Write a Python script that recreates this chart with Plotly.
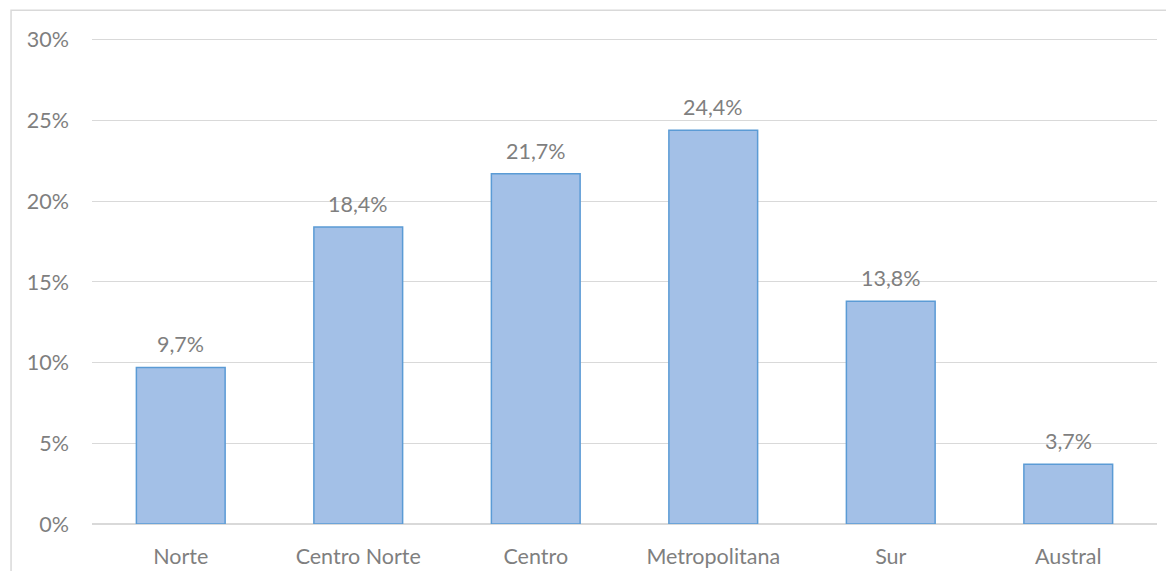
import plotly.graph_objects as go

categories = ["Norte", "Centro Norte", "Centro", "Metropolitana", "Sur", "Austral"]
values = [9.7, 18.4, 21.7, 24.4, 13.8, 3.7]
labels = [f"{v:.1f}".replace(".", ",") + "%" for v in values]
y_ticks = [0, 5, 10, 15, 20, 25, 30]
y_tick_text = [f"{t}%" for t in y_ticks]

FONT = "Lato, Carlito, 'Open Sans', sans-serif"
GRAY = "#7f7f7f"
FS = 21.5

fig = go.Figure(
    go.Bar(
        x=categories,
        y=values,
        marker=dict(color="#a3c0e7", line=dict(color="#5b9bd5", width=1.5)),
        width=0.5,
    )
)

for c, v, t in zip(categories, values, labels):
    fig.add_annotation(
        x=c, y=v, text=t, showarrow=False, yanchor="bottom", yshift=8,
        font=dict(family=FONT, size=FS, color=GRAY),
    )

# page body has 8px margin -> figure shrunk accordingly
fig.update_layout(
    width=1158,
    height=563,
    margin=dict(l=84, r=9, t=30, b=47),
    paper_bgcolor="white",
    plot_bgcolor="white",
    showlegend=False,
    font=dict(family=FONT, size=FS, color=GRAY),
    shapes=[
        dict(
            type="rect", xref="paper", yref="paper",
            x0=-0.076, x1=1.1, y0=-0.3, y1=1.057,
            line=dict(color="#d9d9d9", width=1.5), layer="below",
        )
    ],
)
fig.update_yaxes(
    range=[0, 30.12],
    tickvals=y_ticks,
    ticktext=y_tick_text,
    showgrid=True,
    gridcolor="#d9d9d9",
    gridwidth=1,
    zeroline=True,
    zerolinecolor="#d9d9d9",
    showline=False,
    ticks="",
    ticklabelstandoff=22,
    automargin=False,
    tickfont=dict(family=FONT, size=FS, color=GRAY),
)
fig.update_xaxes(
    showline=False,
    ticks="",
    showgrid=False,
    ticklabelstandoff=17,
    automargin=False,
    tickfont=dict(family=FONT, size=FS, color=GRAY),
)

fig.write_html("out.html")
